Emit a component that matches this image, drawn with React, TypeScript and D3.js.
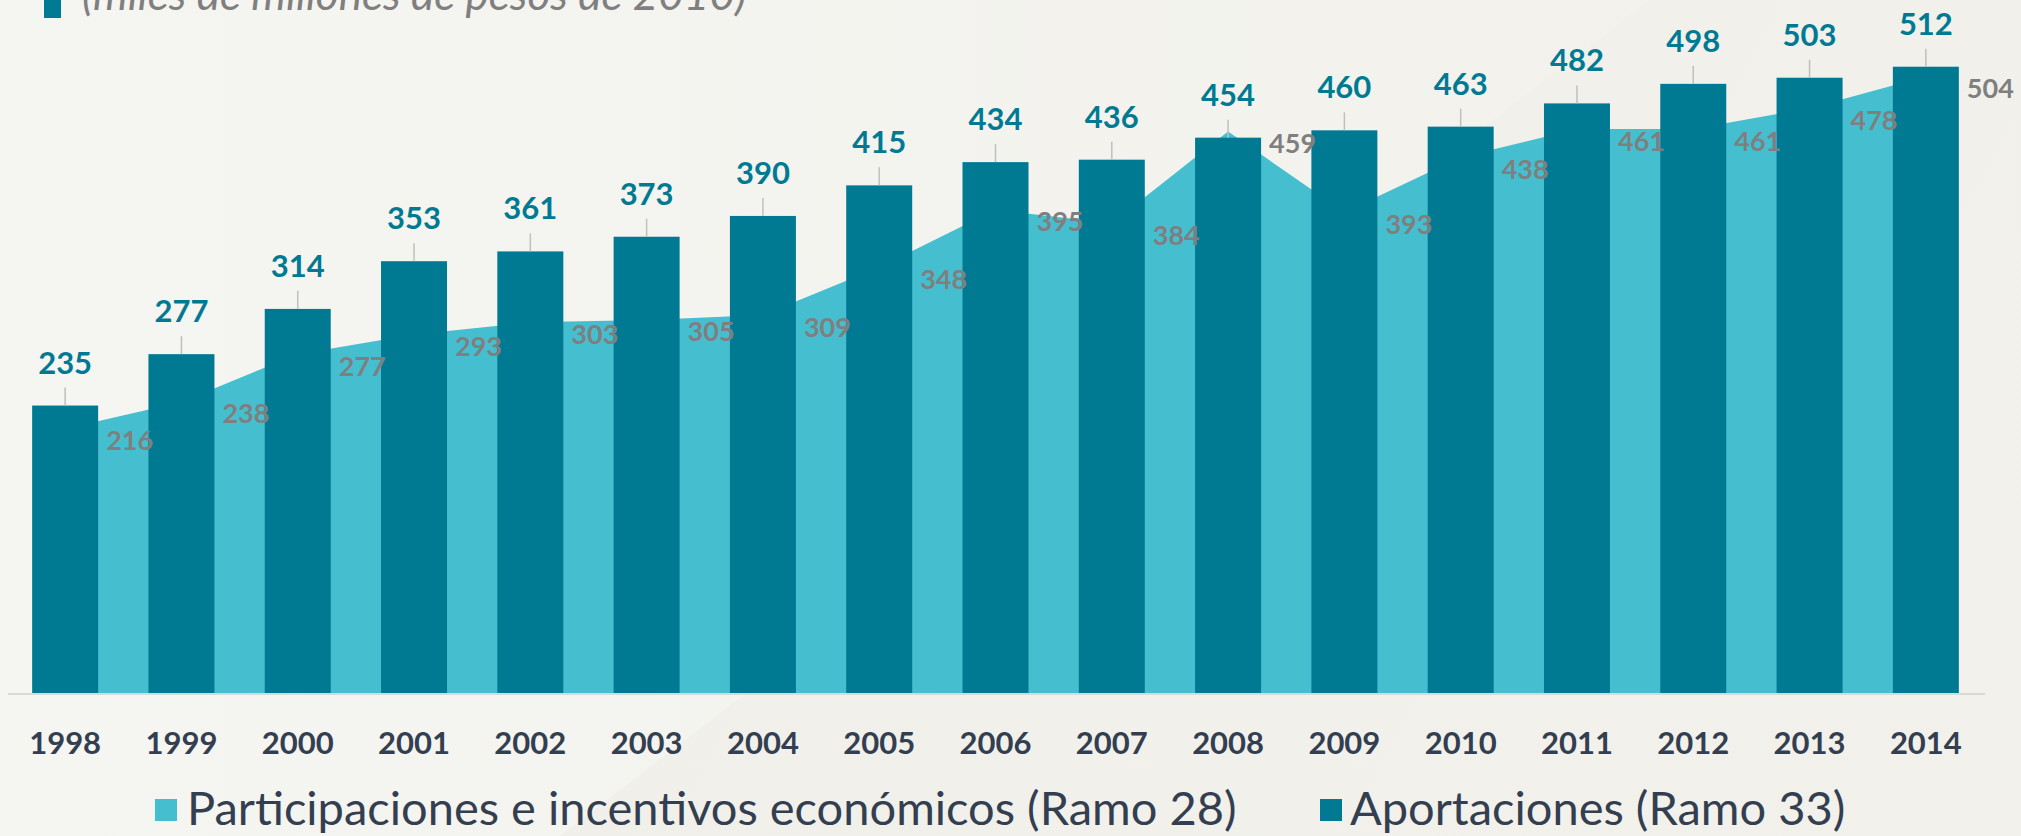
import React from 'react';
import * as d3 from 'd3';

const years = ['1998','1999','2000','2001','2002','2003','2004','2005','2006','2007','2008','2009','2010','2011','2012','2013','2014'];
const aportaciones = [235, 277, 314, 353, 361, 373, 390, 415, 434, 436, 454, 460, 463, 482, 498, 503, 512];
const participaciones = [216, 238, 277, 293, 303, 305, 309, 348, 395, 384, 459, 393, 438, 461, 461, 478, 504];
const subtitle = '(miles de millones de pesos de 2010)';
const legendLabels = ['Participaciones e incentivos económicos (Ramo 28)', 'Aportaciones (Ramo 33)'];

const W = 2021;
const H = 836;
const BAR = '#007a93';
const AREA = '#45bfcf';
const DARK = '#333f50';
const GRAY = '#7f7f7f';
const FONT = 'Lato, "Open Sans", sans-serif';

export default function App() {
  const baseY = 693;
  const x = d3.scaleBand<string>().domain(years).range([7, 1984]).paddingInner(0.4325).paddingOuter(0.21625);
  const y = d3.scaleLinear().domain([0, 560]).range([baseY, 8]);
  const bw = x.bandwidth();
  const cx = (yr: string) => (x(yr) as number) + bw / 2;

  const areaGen = d3.area<number>()
    .x((_, i) => cx(years[i]))
    .y0(baseY)
    .y1((d) => y(d));

  return (
    <div style={{ position: 'fixed', left: 0, top: 0, width: W, height: H, overflow: 'hidden' }}>
      <svg width={W} height={H} style={{ display: 'block' }}>
        <defs>
          <linearGradient id="bg" x1="0" y1="0" x2="1" y2="0">
            <stop offset="0" stopColor="#f5f5f1" />
            <stop offset="1" stopColor="#f2f1ec" />
          </linearGradient>
          <linearGradient id="band" x1="0" y1="0" x2="1" y2="0.3">
            <stop offset="0" stopColor="#efeee9" stopOpacity="0" />
            <stop offset="0.15" stopColor="#efeee9" stopOpacity="0.8" />
            <stop offset="1" stopColor="#f1f0eb" stopOpacity="0.6" />
          </linearGradient>
        </defs>
        <rect x={0} y={0} width={W} height={H} fill="url(#bg)" />
        <polygon points={`1650,0 ${W},0 ${W},${H} 560,${H}`} fill="url(#band)" />

        {/* subtitle */}
        <rect x={44} y={0} width={17} height={18} fill={BAR} />
        <text x={82} y={10} fontFamily={FONT} fontStyle="italic" fontSize={44} fill={GRAY}>{subtitle}</text>

        {/* area */}
        <path d={areaGen(participaciones) || ''} fill={AREA} />

        {/* bars */}
        {aportaciones.map((v, i) => (
          <rect key={years[i]} x={x(years[i])} y={y(v)} width={bw} height={baseY - y(v)} fill={BAR} />
        ))}

        {/* axis line */}
        <line x1={8} x2={1985} y1={baseY + 1} y2={baseY + 1} stroke="#d9d9d9" strokeWidth={2} />

        {/* bar labels */}
        {aportaciones.map((v, i) => {
          const top = y(v);
          return (
            <g key={'bl' + years[i]}>
              <line x1={cx(years[i])} x2={cx(years[i])} y1={top} y2={top - 18} stroke="#bfbfbf" strokeWidth={1.5} />
              <text x={cx(years[i])} y={top - 32} textAnchor="middle" fontFamily={FONT} fontWeight={700} fontSize={31} fill={BAR}>{v}</text>
            </g>
          );
        })}

        {/* area labels */}
        {participaciones.map((v, i) => (
          <text key={'al' + years[i]} x={cx(years[i]) + bw / 2 + 8} y={y(v) + 11} dominantBaseline="central" fontFamily={FONT} fontWeight={700} fontSize={27} fill={GRAY}>{v}</text>
        ))}

        {/* x tick labels */}
        {years.map((yr) => (
          <text key={'t' + yr} x={cx(yr)} y={754} textAnchor="middle" fontFamily={FONT} fontWeight={700} fontSize={31} fill={DARK}>{yr}</text>
        ))}

        {/* legend */}
        <rect x={155} y={799} width={22} height={22} fill={AREA} />
        <text x={187} y={825} fontFamily={FONT} fontSize={47} fill={DARK}>{legendLabels[0]}</text>
        <rect x={1320} y={799} width={22} height={22} fill={BAR} />
        <text x={1350} y={825} fontFamily={FONT} fontSize={47} fill={DARK}>{legendLabels[1]}</text>
      </svg>
    </div>
  );
}
